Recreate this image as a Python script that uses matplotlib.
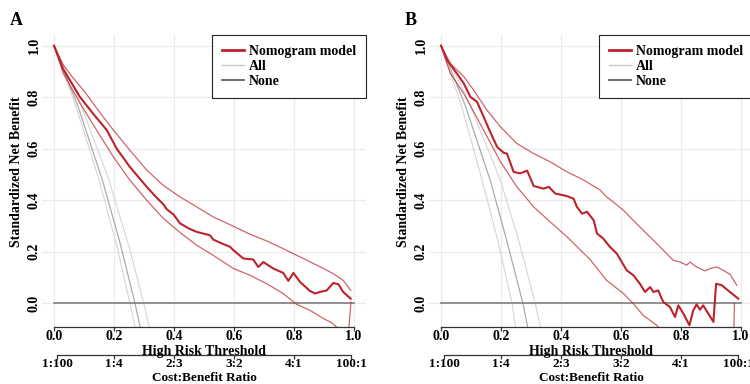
import numpy as np
import matplotlib
matplotlib.use('Agg')
import matplotlib.pyplot as plt
from matplotlib.lines import Line2D

plt.rcParams['font.family'] = ['Liberation Serif', 'DejaVu Serif']
plt.rcParams['font.weight'] = 'bold'
plt.rcParams['axes.labelweight'] = 'bold'
plt.rcParams['font.size'] = 10

# ---- data ----
# panel A, nomogram model (point estimate + CI)
A_mid_t = [0, 0.03, 0.087, 0.131, 0.176, 0.209, 0.253, 0.309, 0.342, 0.364, 0.376, 0.398, 0.409, 0.42, 0.431, 0.45,
           0.476, 0.52, 0.531, 0.564, 0.587, 0.598, 0.631, 0.664, 0.681, 0.698, 0.731, 0.764, 0.781, 0.798, 0.82,
           0.853, 0.87, 0.89, 0.909, 0.931, 0.948, 0.964, 0.989]
A_mid_nb = [1.0, 0.91, 0.80, 0.735, 0.672, 0.60, 0.529, 0.452, 0.41, 0.385, 0.365, 0.345, 0.328, 0.31, 0.303, 0.29,
            0.277, 0.264, 0.247, 0.23, 0.219, 0.206, 0.174, 0.170, 0.141, 0.160, 0.135, 0.118, 0.087, 0.118, 0.083,
            0.048, 0.038, 0.045, 0.050, 0.079, 0.074, 0.044, 0.018]
A_hi_t = [0, 0.031, 0.06, 0.103, 0.153, 0.198, 0.253, 0.309, 0.364, 0.42, 0.476, 0.531, 0.598, 0.653, 0.709, 0.764,
          0.82, 0.876, 0.931, 0.964, 0.989]
A_hi_nb = [1.0, 0.925, 0.88, 0.82, 0.74, 0.672, 0.594, 0.517, 0.458, 0.413, 0.374, 0.335, 0.299, 0.268, 0.242, 0.212,
           0.180, 0.148, 0.115, 0.089, 0.050]
A_lo_t = [0, 0.031, 0.087, 0.142, 0.198, 0.253, 0.309, 0.364, 0.42, 0.476, 0.531, 0.598, 0.653, 0.709, 0.764, 0.809,
          0.853, 0.898, 0.926, 0.942, 0.96, 0.975, 0.99]
A_lo_nb = [1.0, 0.892, 0.776, 0.672, 0.568, 0.478, 0.40, 0.33, 0.275, 0.225, 0.186, 0.135, 0.109, 0.076, 0.038, -0.004,
           -0.027, -0.059, -0.076, -0.092, -0.12, -0.2, 0.005]
# panel A, treat all (point estimate + CI)
A_all_t = [0, 0.08, 0.16, 0.22, 0.27, 0.29]
A_all_nb = [1.0, 0.764, 0.483, 0.235, 0.0, -0.108]
A_all_lo_t = [0, 0.08, 0.15, 0.21, 0.255, 0.275]
A_all_lo_nb = [1.0, 0.74, 0.48, 0.22, -0.01, -0.12]
A_all_hi_t = [0, 0.08, 0.18, 0.25, 0.30, 0.325]
A_all_hi_nb = [1.0, 0.80, 0.49, 0.22, -0.004, -0.13]

# panel B, nomogram model
B_mid_t = [0, 0.02, 0.053, 0.076, 0.098, 0.12, 0.142, 0.164, 0.187, 0.209, 0.22, 0.242, 0.264, 0.287, 0.309, 0.342,
           0.359, 0.381, 0.42, 0.442, 0.453, 0.47, 0.487, 0.509, 0.52, 0.541, 0.563, 0.586, 0.619, 0.641, 0.663,
           0.68, 0.697, 0.708, 0.724, 0.741, 0.763, 0.78, 0.791, 0.808, 0.828, 0.841, 0.852, 0.863, 0.874, 0.908,
           0.917, 0.936, 0.963, 0.991]
B_mid_nb = [1.0, 0.944, 0.892, 0.853, 0.801, 0.782, 0.724, 0.665, 0.607, 0.584, 0.581, 0.51, 0.504, 0.515, 0.455,
            0.445, 0.452, 0.426, 0.416, 0.406, 0.374, 0.348, 0.355, 0.322, 0.271, 0.251, 0.219, 0.193, 0.128, 0.109,
            0.076, 0.044, 0.063, 0.044, 0.050, 0.005, -0.014, -0.053, -0.008, -0.040, -0.085, -0.027, -0.004,
            -0.025, -0.008, -0.072, 0.076, 0.070, 0.044, 0.018]
B_hi_t = [0, 0.031, 0.076, 0.109, 0.153, 0.198, 0.253, 0.309, 0.364, 0.42, 0.476, 0.531, 0.552, 0.587, 0.608, 0.663,
          0.719, 0.774, 0.797, 0.819, 0.83, 0.852, 0.88, 0.897, 0.919, 0.941, 0.963, 0.986]
B_hi_nb = [1.0, 0.931, 0.88, 0.827, 0.75, 0.685, 0.62, 0.581, 0.549, 0.51, 0.478, 0.439, 0.413, 0.381, 0.361, 0.296,
           0.232, 0.167, 0.160, 0.148, 0.160, 0.141, 0.126, 0.135, 0.141, 0.128, 0.113, 0.070]
B_lo_t = [0, 0.031, 0.076, 0.142, 0.198, 0.253, 0.309, 0.364, 0.42, 0.497, 0.552, 0.608, 0.641, 0.674, 0.719, 0.74,
          0.97, 0.978]
B_lo_nb = [1.0, 0.892, 0.814, 0.672, 0.55, 0.452, 0.374, 0.316, 0.258, 0.17, 0.089, 0.038, -0.001, -0.047, -0.085,
           -0.11, -0.5, 0.0]
# panel B, treat all
B_all_t = [0, 0.08, 0.164, 0.22, 0.273, 0.292]
B_all_nb = [1.0, 0.77, 0.478, 0.24, 0.0, -0.11]
B_all_lo_t = [0, 0.07, 0.137, 0.19, 0.237, 0.252]
B_all_lo_nb = [1.0, 0.76, 0.478, 0.24, 0.0, -0.125]
B_all_hi_t = [0, 0.09, 0.198, 0.26, 0.314, 0.337]
B_all_hi_nb = [1.0, 0.79, 0.478, 0.24, 0.0, -0.12]

none_t = [0, 1]
none_nb = [0, 0]

x_ticks = [0, 0.2, 0.4, 0.6, 0.8, 1.0]
x_labels = ['0.0', '0.2', '0.4', '0.6', '0.8', '1.0']
y_ticks = [0, 0.2, 0.4, 0.6, 0.8, 1.0]
y_labels = ['0.0', '0.2', '0.4', '0.6', '0.8', '1.0']
cb_ticks = [0.01, 0.2, 0.4, 0.6, 0.8, 0.99]
cb_labels = ['1:100', '1:4', '2:3', '3:2', '4:1', '100:1']
legend_labels = ['Nomogram model', 'All', 'None']

red = '#BC232C'
axis_col = '#333333'


def Panel(ax, letter, fx, fy, mid, lo, hi, all_mid, all_lo, all_hi):
    ax.set_xlim(-0.04, 1.04)
    ax.set_ylim(-0.092, 1.042)
    ax.set_axisbelow(True)
    ax.grid(color='#EBEBEB', lw=0.9)

    # treat all
    ax.plot(all_lo[0], all_lo[1], color='#D6D6D6', lw=0.8)
    ax.plot(all_hi[0], all_hi[1], color='#D6D6D6', lw=0.8)
    ax.plot(all_mid[0], all_mid[1], color='#ABABAB', lw=0.9)
    # treat none
    ax.plot(none_t, none_nb, color='#808080', lw=1.2)
    # model
    ax.plot(lo[0], lo[1], color=red, lw=0.9, alpha=0.7)
    ax.plot(hi[0], hi[1], color=red, lw=0.9, alpha=0.7)
    ax.plot(mid[0], mid[1], color=red, lw=1.5)

    for s in ['left', 'top', 'right']:
        ax.spines[s].set_visible(False)
    ax.spines['bottom'].set_bounds(0, 1)
    ax.spines['bottom'].set_color(axis_col)
    ax.spines['bottom'].set_linewidth(0.9)
    ax.set_xticks(x_ticks, x_labels)
    ax.set_yticks(y_ticks, y_labels, rotation=90, va='center')
    ax.tick_params(axis='x', length=3, width=0.9, color=axis_col, pad=-0.5, labelsize=10)
    ax.tick_params(axis='y', length=0, pad=1, labelsize=10)
    ax.set_xlabel('High Risk Threshold', fontsize=10)
    ax.xaxis.set_label_coords(0.5, -0.06)
    ax.set_ylabel('Standardized Net Benefit', fontsize=10)
    ax.yaxis.set_label_coords(-0.059, 0.53)

    # cost:benefit axis
    sec = ax.secondary_xaxis(-0.097)
    sec.set_xticks(cb_ticks, cb_labels)
    sec.spines['bottom'].set_bounds(0.01, 0.99)
    sec.spines['bottom'].set_color(axis_col)
    sec.spines['bottom'].set_linewidth(0.9)
    sec.tick_params(length=3, width=0.9, color=axis_col, pad=-0.8, labelsize=9.5)
    ax.text(0.5, -0.153, 'Cost:Benefit Ratio', transform=ax.transAxes, ha='center', va='top', fontsize=9.5)

    handles = [Line2D([], [], color=red, lw=2),
               Line2D([], [], color='#C8C8C8', lw=1),
               Line2D([], [], color='#555555', lw=1.2)]
    leg = ax.legend(handles, legend_labels, loc='upper right', borderaxespad=0, fancybox=False,
                    edgecolor='#222222', framealpha=1, borderpad=0.7, handlelength=1.55,
                    handletextpad=0.4, labelspacing=0.16, fontsize=10)
    leg.get_frame().set_linewidth(0.8)

    plt.gcf().text(fx, fy, letter, fontsize=13, ha='center', va='center')


fig = plt.figure(figsize=(7.5, 3.84), dpi=100)
axA = fig.add_axes([0.056, 0.1484, 0.432, 0.761])
axB = fig.add_axes([0.572, 0.1484, 0.432, 0.761])

Panel(axA, 'A', 0.0213, 0.946, (A_mid_t, A_mid_nb), (A_lo_t, A_lo_nb), (A_hi_t, A_hi_nb),
      (A_all_t, A_all_nb), (A_all_lo_t, A_all_lo_nb), (A_all_hi_t, A_all_hi_nb))
Panel(axB, 'B', 0.547, 0.946, (B_mid_t, B_mid_nb), (B_lo_t, B_lo_nb), (B_hi_t, B_hi_nb),
      (B_all_t, B_all_nb), (B_all_lo_t, B_all_lo_nb), (B_all_hi_t, B_all_hi_nb))

fig.savefig('out.png', dpi=100)
